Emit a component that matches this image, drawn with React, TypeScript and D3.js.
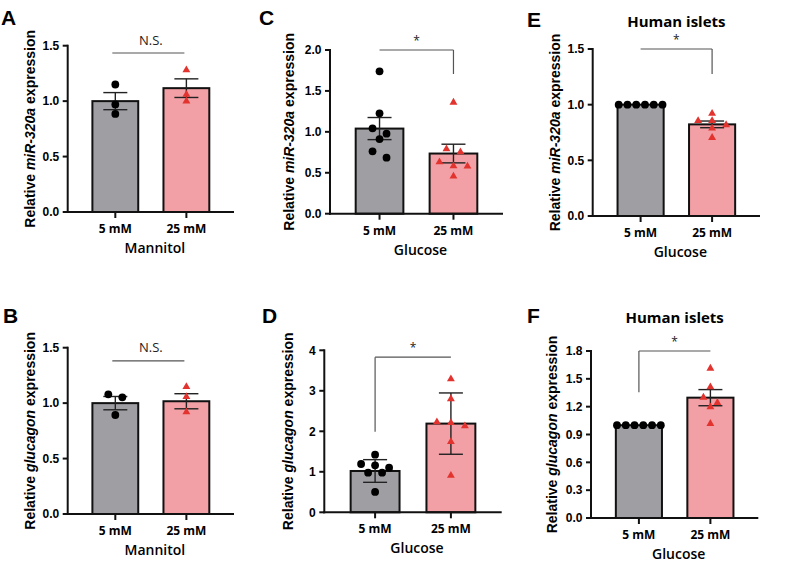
import React from 'react';
import * as d3 from 'd3';

// ---------- data ----------
const groups = ['5 mM', '25 mM'];

// Panel A – miR-320a, Mannitol
const aMeans = [1.0, 1.117];
const aErrors = [0.077, 0.084];
const aLow = [1.15, 0.97, 0.885];
const aHigh = [1.28, 1.06, 1.0];
// Panel B – glucagon, Mannitol
const bMeans = [1.0, 1.017];
const bErrors = [0.06, 0.068];
const bLow = [1.079, 1.052, 0.893];
const bHigh = [1.148, 1.058, 0.92];
// Panel C – miR-320a, Glucose
const cMeans = [1.04, 0.735];
const cErrors = [0.135, 0.114];
const cLow = [1.74, 1.226, 1.043, 0.978, 0.912, 0.762, 0.684];
const cHigh = [1.36, 0.79, 0.754, 0.632, 0.583, 0.579, 0.457];
// Panel D – glucagon, Glucose
const dMeans = [1.02, 2.19];
const dErrors = [0.28, 0.757];
const dLow = [1.424, 1.193, 1.16, 1.103, 0.979, 0.979, 0.502];
const dHigh = [3.29, 2.8, 2.23, 2.21, 2.13, 1.74, 0.91];
// Panel E – miR-320a, Human islets
const eMeans = [1.0, 0.823];
const eErrors = [0, 0.03];
const eLow = [1, 1, 1, 1, 1, 1];
const eHigh = [0.92, 0.856, 0.856, 0.818, 0.788, 0.704];
// Panel F – glucagon, Human islets
const fMeans = [1.0, 1.297];
const fErrors = [0, 0.087];
const fLow = [1, 1, 1, 1, 1, 1];
const fHigh = [1.613, 1.412, 1.3, 1.243, 1.197, 1.017];

const ticksA = [0, 0.5, 1.0, 1.5];
const ticksC = [0, 0.5, 1.0, 1.5, 2.0];
const ticksD = [0, 1, 2, 3, 4];
const ticksF = [0, 0.3, 0.6, 0.9, 1.2, 1.5, 1.8];

const letters = ['A', 'B', 'C', 'D', 'E', 'F'];
const genes = ['miR-320a', 'glucagon', 'miR-320a', 'glucagon', 'miR-320a', 'glucagon'];
const xTitles = ['Mannitol', 'Mannitol', 'Glucose', 'Glucose', 'Glucose', 'Glucose'];
const titles = ['', '', '', '', 'Human islets', 'Human islets'];
const sigLabels = ['N.S.', 'N.S.', '*', '*', '*', '*'];
const sigLevels = [1.434, 1.382, 2.0, 3.83, 1.5, 1.8];
const sigDrops = [null, null, 1.707, 1.99, 1.276, 1.355];
const sigSides = ['none', 'none', 'right', 'left', 'right', 'left'];

// ---------- layout / style ----------
const FONT = "'Open Sans', 'DejaVu Sans', sans-serif";
const ARIAL = "'Liberation Sans', Arial, sans-serif";
const GRAY = '#9f9ea3';
const PINK = '#f2a0a5';
const RED = '#e2332f';

type Frame = { x0: number; x1: number; yTop: number; y0: number; lx: number; ly: number; labX: number; fmt: (v: number) => string };
const f1 = d3.format('.1f');
const f0 = d3.format('d');
const frames: Frame[] = [
  { x0: 67.7, x1: 234, yTop: 45.7, y0: 212, lx: 1, ly: 25, labX: 34.5, fmt: f1 },
  { x0: 67.7, x1: 234, yTop: 347.7, y0: 514, lx: 3, ly: 323, labX: 34.5, fmt: f1 },
  { x0: 330, x1: 503, yTop: 50, y0: 213.7, lx: 259, ly: 25, labX: 294, fmt: f1 },
  { x0: 324.3, x1: 501.7, yTop: 350.3, y0: 512.3, lx: 262, ly: 323, labX: 293, fmt: f0 },
  { x0: 592.7, x1: 760, yTop: 49, y0: 216, lx: 527, ly: 27, labX: 559.5, fmt: f1 },
  { x0: 591, x1: 758.3, yTop: 351, y0: 518, lx: 527, ly: 323, labX: 557, fmt: f1 },
];

type PanelData = { means: number[]; errors: number[]; low: number[]; high: number[]; ticks: number[] };
const panelData: PanelData[] = [
  { means: aMeans, errors: aErrors, low: aLow, high: aHigh, ticks: ticksA },
  { means: bMeans, errors: bErrors, low: bLow, high: bHigh, ticks: ticksA },
  { means: cMeans, errors: cErrors, low: cLow, high: cHigh, ticks: ticksC },
  { means: dMeans, errors: dErrors, low: dLow, high: dHigh, ticks: ticksD },
  { means: eMeans, errors: eErrors, low: eLow, high: eHigh, ticks: ticksA },
  { means: fMeans, errors: fErrors, low: fLow, high: fHigh, ticks: ticksF },
];

// simple row-based dodge: points whose pixel heights are close share a row, spread symmetrically
function swarm(values: number[], y: (v: number) => number, binH: number, step: number, maxSpan: number) {
  const pts = values.map((v, i) => ({ v, i, py: y(v), dx: 0 }));
  const sorted = [...pts].sort((a, b) => a.py - b.py || a.i - b.i);
  const rows: typeof pts[] = [];
  let cur: typeof pts = [];
  let start = -Infinity;
  for (const p of sorted) {
    if (p.py - start < binH && cur.length) cur.push(p);
    else {
      if (cur.length) rows.push(cur);
      cur = [p];
      start = p.py;
    }
  }
  if (cur.length) rows.push(cur);
  for (const r of rows) {
    const n = r.length;
    const s = n > 1 ? Math.min(step, maxSpan / (n - 1)) : 0;
    r.forEach((p, k) => (p.dx = (k - (n - 1) / 2) * s));
  }
  return pts;
}

const triPath = d3.symbol().type(d3.symbolTriangle).size(27)() as string;

function Panel({ idx }: { idx: number }) {
  const fr = frames[idx];
  const pd = panelData[idx];
  const yMax = pd.ticks[pd.ticks.length - 1];
  const y = d3.scaleLinear().domain([0, yMax]).range([fr.y0, fr.yTop]);
  const x = d3.scalePoint<string>().domain(groups).range([fr.x0, fr.x1]).padding(0.67);
  const bw = x.step() * 0.645;
  const cap = 24;
  const cx = groups.map((g) => x(g) as number);
  const lowPts = swarm(pd.low, y, 6.5, 14, bw * 0.95);
  const highPts = swarm(pd.high, y, 6.5, 14, bw * 0.95);
  const side = sigSides[idx];
  const sy = y(sigLevels[idx]);
  const midX = (cx[0] + cx[1]) / 2;
  const yMid = (fr.yTop + fr.y0) / 2;
  return (
    <g>
      <text x={fr.lx} y={fr.ly} fontFamily={ARIAL} fontWeight={700} fontSize={21}>
        {letters[idx]}
      </text>
      {titles[idx] && (
        <text x={midX} y={fr.ly} textAnchor="middle" fontFamily={FONT} fontWeight={700} fontSize={15}>
          {titles[idx]}
        </text>
      )}
      {/* bars */}
      {pd.means.map((m, i) => (
        <rect key={'b' + i} x={cx[i] - bw / 2} y={y(m)} width={bw} height={fr.y0 - y(m)} fill={i === 0 ? GRAY : PINK} stroke="#111" strokeWidth={2} />
      ))}
      {/* error bars */}
      {pd.means.map((m, i) =>
        pd.errors[i] > 0 ? (
          <g key={'e' + i} stroke="#222" strokeWidth={1.4}>
            <line x1={cx[i]} x2={cx[i]} y1={y(m - pd.errors[i])} y2={y(m + pd.errors[i])} />
            <line x1={cx[i] - cap / 2} x2={cx[i] + cap / 2} y1={y(m + pd.errors[i])} y2={y(m + pd.errors[i])} />
            <line x1={cx[i] - cap / 2} x2={cx[i] + cap / 2} y1={y(m - pd.errors[i])} y2={y(m - pd.errors[i])} />
          </g>
        ) : null
      )}
      {/* points */}
      {lowPts.map((p, k) => (
        <circle key={'l' + k} cx={cx[0] + p.dx} cy={p.py} r={3.9} fill="#000" />
      ))}
      {highPts.map((p, k) => (
        <path key={'h' + k} d={triPath} transform={`translate(${cx[1] + p.dx},${p.py})`} fill={RED} />
      ))}
      {/* axes */}
      <g stroke="#111" strokeWidth={2} fill="none">
        <line x1={fr.x0} x2={fr.x0} y1={fr.yTop - 1} y2={fr.y0 + 1} />
        <line x1={fr.x0 - 1} x2={fr.x1} y1={fr.y0} y2={fr.y0} />
        {pd.ticks.map((t) => (
          <line key={'yt' + t} x1={fr.x0 - 5} x2={fr.x0} y1={y(t)} y2={y(t)} />
        ))}
        {cx.map((c, i) => (
          <line key={'xt' + i} x1={c} x2={c} y1={fr.y0} y2={fr.y0 + 6} />
        ))}
      </g>
      {pd.ticks.map((t) => (
        <text key={'yl' + t} x={fr.x0 - 8.5} y={y(t) + 4.2} textAnchor="end" fontFamily={ARIAL} fontWeight={700} fontSize={12}>
          {fr.fmt(t)}
        </text>
      ))}
      {groups.map((g, i) => (
        <text key={'xl' + i} x={cx[i]} y={fr.y0 + 21} textAnchor="middle" fontFamily={FONT} fontWeight={700} fontSize={12}>
          {g}
        </text>
      ))}
      <text x={(fr.x0 + fr.x1) / 2 + 4} y={fr.y0 + 41} textAnchor="middle" fontFamily={FONT} fontWeight={600} fontSize={14}>
        {xTitles[idx]}
      </text>
      <text
        transform={`translate(${fr.labX},${yMid}) rotate(-90)`}
        textAnchor="middle"
        fontFamily={ARIAL}
        fontWeight={700}
        fontSize={14}
      >
        <tspan>Relative </tspan>
        <tspan fontStyle="italic">{genes[idx]}</tspan>
        <tspan> expression</tspan>
      </text>
      {/* significance */}
      <g stroke="#555" strokeWidth={1.2} fill="none">
        {side === 'none' ? (
          <line x1={cx[0] - 3} x2={cx[1] - 2} y1={sy} y2={sy} />
        ) : (
          <>
            <line x1={cx[0]} x2={cx[1]} y1={sy} y2={sy} />
            <line
              x1={side === 'right' ? cx[1] : cx[0]}
              x2={side === 'right' ? cx[1] : cx[0]}
              y1={sy}
              y2={y(sigDrops[idx] as number)}
            />
          </>
        )}
      </g>
      <text
        x={midX}
        y={side === 'none' ? sy - 8.5 : sy - 5.5}
        textAnchor="middle"
        fontFamily={FONT}
        fontSize={side === 'none' ? 13 : 12}
        fill="#222"
      >
        {sigLabels[idx]}
      </text>
    </g>
  );
}

export default function App() {
  return (
    <svg width={800} height={571} style={{ position: 'absolute', left: 0, top: 0, background: '#fff' }}>
      <rect width={800} height={571} fill="#fff" />
      {letters.map((_, i) => (
        <Panel key={i} idx={i} />
      ))}
    </svg>
  );
}
